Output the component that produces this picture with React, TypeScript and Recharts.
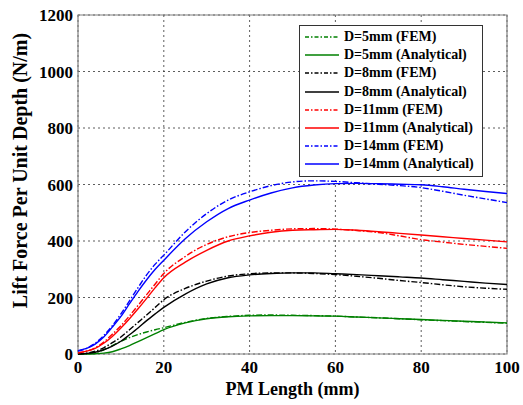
import { CartesianGrid, Label, Legend, Line, LineChart, ReferenceArea, XAxis, YAxis } from "recharts";

// PM length samples (mm)
const pmLength = [0, 2, 4, 6, 8, 10, 12, 14, 16, 18, 20, 25, 30, 35, 40, 45, 50, 55, 60, 65, 70, 75, 80, 85, 90, 95, 100];

// lift force per unit depth (N/m) for each air-gap D
const fem5 = [0, 1, 5, 15, 30, 45, 58, 69, 78, 86, 93, 112, 126, 133, 137, 138, 137, 136, 134, 131, 128, 125, 121, 118, 115, 112, 109];
const analytical5 = [0, 0, 1, 3, 8, 18, 30, 44, 58, 72, 86, 110, 125, 132, 135, 136, 136, 135, 134, 131, 128, 125, 122, 119, 116, 113, 110];
const fem8 = [0, 3, 10, 22, 40, 60, 86, 112, 138, 165, 192, 232, 258, 276, 284, 287, 287, 285, 281, 275, 268, 260, 253, 245, 238, 233, 229];
const analytical8 = [0, 2, 6, 15, 28, 45, 68, 92, 118, 142, 165, 212, 248, 270, 280, 285, 287, 287, 284, 281, 277, 273, 269, 263, 257, 251, 246];
const fem11 = [3, 10, 22, 42, 70, 100, 135, 172, 210, 248, 285, 345, 388, 415, 430, 438, 443, 444, 442, 437, 430, 418, 405, 396, 388, 381, 374];
const analytical11 = [5, 10, 20, 38, 62, 92, 125, 160, 197, 235, 270, 325, 367, 400, 418, 431, 438, 440, 441, 438, 433, 427, 421, 415, 409, 403, 397];
const fem14 = [10, 20, 38, 65, 100, 142, 188, 235, 280, 318, 350, 432, 497, 545, 574, 596, 609, 613, 611, 606, 601, 596, 589, 576, 562, 549, 536];
const analytical14 = [12, 20, 35, 60, 95, 133, 178, 222, 263, 300, 332, 408, 468, 515, 545, 570, 588, 598, 603, 604, 603, 601, 599, 592, 583, 575, 568];

const xTicks = [0, 20, 40, 60, 80, 100];
const yTicks = [0, 200, 400, 600, 800, 1000, 1200];

const series = [
  { key: "fem5", name: "D=5mm (FEM)", color: "#008000", dashed: true, values: fem5 },
  { key: "analytical5", name: "D=5mm (Analytical)", color: "#008000", dashed: false, values: analytical5 },
  { key: "fem8", name: "D=8mm (FEM)", color: "#000000", dashed: true, values: fem8 },
  { key: "analytical8", name: "D=8mm (Analytical)", color: "#000000", dashed: false, values: analytical8 },
  { key: "fem11", name: "D=11mm (FEM)", color: "#ff0000", dashed: true, values: fem11 },
  { key: "analytical11", name: "D=11mm (Analytical)", color: "#ff0000", dashed: false, values: analytical11 },
  { key: "fem14", name: "D=14mm (FEM)", color: "#0000ff", dashed: true, values: fem14 },
  { key: "analytical14", name: "D=14mm (Analytical)", color: "#0000ff", dashed: false, values: analytical14 },
];

const data = pmLength.map((x, i) => {
  const row: Record<string, number> = { x };
  series.forEach((s) => {
    row[s.key] = s.values[i];
  });
  return row;
});

const FONT = "Liberation Serif";
const DASH_DOT = "6 2 1.5 2";
const tickStyle = { fill: "#000", fontFamily: FONT, fontWeight: 700, fontSize: 17, style: { fontFamily: FONT } };

function LegendBox() {
  return (
    <div
      style={{
        border: "1px solid #333",
        background: "#fff",
        padding: "2px 8px 2px 5px",
        fontFamily: FONT,
        fontWeight: 700,
        fontSize: 14,
        color: "#000",
      }}
    >
      {series.map((s) => (
        <div key={s.key} style={{ display: "flex", alignItems: "center", height: 18.2 }}>
          <svg width={34} height={6} style={{ marginRight: 5 }}>
            <line x1={0} y1={3} x2={34} y2={3} stroke={s.color} strokeWidth={1.4} strokeDasharray={s.dashed ? "4 2 1.5 2" : undefined} />
          </svg>
          <span style={{ whiteSpace: "nowrap" }}>{s.name}</span>
        </div>
      ))}
    </div>
  );
}

export default function App() {
  return (
    <div style={{ position: "absolute", left: 0, top: 0, background: "#fff", fontFamily: FONT }}>
      <LineChart width={523} height={405} data={data} margin={{ top: 15, right: 16, bottom: 0, left: 0 }} style={{ fontFamily: FONT }}>
        <CartesianGrid stroke="#333" strokeDasharray="2 3" strokeWidth={0.8} />
        <ReferenceArea x1={0} x2={100} y1={0} y2={1200} fill="none" stroke="#808080" strokeWidth={1.2} ifOverflow="visible" />
        <XAxis
          dataKey="x"
          type="number"
          domain={[0, 100]}
          ticks={xTicks}
          height={51}
          axisLine={false}
          tickLine={false}
          tickSize={5}
          tickMargin={2}
          tick={tickStyle}
        >
          <Label
            content={({ viewBox }: any) => (
              <text
                x={viewBox.x + viewBox.width / 2}
                y={viewBox.y + 41}
                textAnchor="middle"
                style={{ fontFamily: FONT, fontWeight: 700, fontSize: 18 }}
                fill="#000"
              >
                PM Length (mm)
              </text>
            )}
          />
        </XAxis>
        <YAxis
          type="number"
          domain={[0, 1200]}
          ticks={yTicks}
          width={78}
          axisLine={false}
          tickLine={false}
          tickSize={3}
          tickMargin={2}
          tick={tickStyle}
        >
          <Label
            content={({ viewBox }: any) => {
              const cx = viewBox.x + 27;
              const cy = viewBox.y + viewBox.height / 2 - 14;
              return (
                <text
                  x={cx}
                  y={cy}
                  transform={`rotate(-90 ${cx} ${cy})`}
                  textAnchor="middle"
                  style={{ fontFamily: FONT, fontWeight: 700, fontSize: 20 }}
                  fill="#000"
                >
                  Lift Force Per Unit Depth (N/m)
                </text>
              );
            }}
          />
        </YAxis>
        <Legend
          layout="vertical"
          align="center"
          verticalAlign="middle"
          content={() => <LegendBox />}
          wrapperStyle={{ top: 25, left: 299, width: "auto" }}
        />
        {series.map((s) => (
          <Line
            key={s.key}
            dataKey={s.key}
            name={s.name}
            type="monotone"
            stroke={s.color}
            strokeWidth={1.4}
            strokeDasharray={s.dashed ? DASH_DOT : undefined}
            dot={false}
            isAnimationActive={false}
          />
        ))}
      </LineChart>
    </div>
  );
}
